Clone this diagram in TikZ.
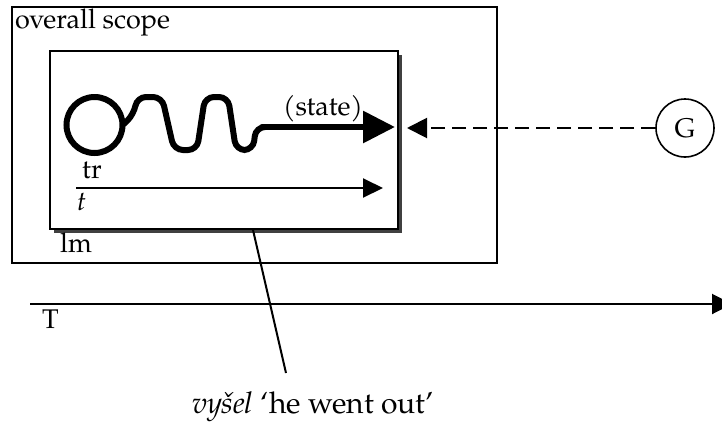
\documentclass[tikz,border=0pt]{standalone}
\usepackage{fontspec}
\setmainfont{texgyrepagella}[Extension=.otf, UprightFont=*-regular, ItalicFont=*-italic, BoldFont=*-bold, BoldItalicFont=*-bolditalic]
\usetikzlibrary{arrows.meta,shadows}
\tikzset{
  lbl/.style={inner sep=0pt, anchor=base west, font=\fontsize{27}{32}\selectfont},
  frame/.style={draw, line width=2pt, inner sep=0pt},
  thin/.style={line width=2pt},
  bigtip/.style={-{Triangle[length=32pt,width=31pt]}},
  smalltip/.style={-{Triangle[length=20pt,width=19pt]}},
}
\begin{document}
\begin{tikzpicture}[x=1pt,y=-1pt]
\useasboundingbox (0,0) rectangle (722,421);

% overall scope frame
\node[frame, minimum width=485pt, minimum height=256pt] (scope) at (254.5,135) {};
\node[lbl] (scopelbl) at (15,28) {overall scope};

% lm box with drop shadow
\node[frame, line width=2.5pt, fill=white, minimum width=348pt, minimum height=178pt,
      drop shadow={shadow xshift=4pt, shadow yshift=-4pt, fill=black!75, opacity=1}]
      (lm) at (224,140) {};
\node[lbl] (lmlbl) at (60,252) {lm};

% the loop and the wave leading into the state arrow
\node[circle, draw, line width=6pt, minimum size=56pt, inner sep=0pt] (loop) at (94.5,125) {};
\coordinate (wstart) at (124,124);
\coordinate (stip) at (395,127);
\draw[line width=6pt, rounded corners=9pt, line cap=round]
  (wstart) -- (134,114) -- (137,97) -- (162,97) -- (174,150) -- (197,150)
  -- (205,97) -- (228,97) -- (236,150) -- (253,150) -- (256,127) -- (262,127);
\draw[line width=6pt, bigtip] (262,127) -- (stip);
\node[lbl] (statelbl) at (283,115) {(state)};

% inner time axis
\coordinate (ta) at (76,188);
\coordinate (tb) at (383,188);
\draw[thin, smalltip] (ta) -- (tb);
\node[lbl] (trlbl) at (82,178) {tr};
\node[lbl] (tlbl) at (77,210) {\itshape t};

% G and the dashed arrow into the lm box
\node[circle, draw, line width=1.6pt, minimum size=58pt, inner sep=0pt,
      font=\fontsize{27}{32}\selectfont] (G) at (685,128) {G};
\coordinate (gtip) at (407,128);
\draw[thin, dash pattern=on 14pt off 7pt, -{Triangle[length=20pt,width=20pt]}] (G.west) -- (gtip);

% outer time axis
\coordinate (Ta) at (30,304);
\coordinate (Tb) at (732,304);
\draw[thin, -{Triangle[length=20pt,width=20pt]}] (Ta) -- (Tb);
\node[lbl] (Tlbl) at (42,328) {T};

% pointer from the lm box to its gloss
\coordinate (pin) at (253,230);
\coordinate (pinend) at (286,373);
\draw[thin] (pin) -- (pinend);
\node[inner sep=0pt, anchor=base, font=\fontsize{30}{36}\selectfont] (gloss) at (313,413)
  {\itshape vyšel\/\upshape{} ‘he went out’};
\end{tikzpicture}
\end{document}
